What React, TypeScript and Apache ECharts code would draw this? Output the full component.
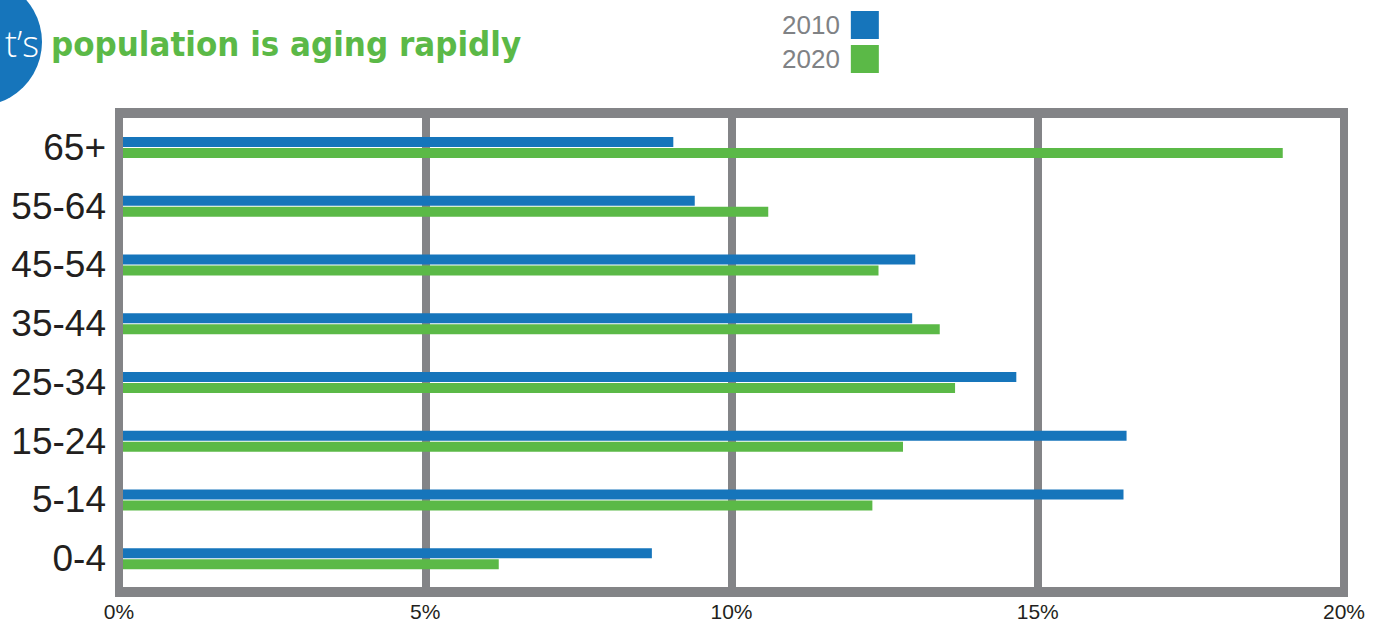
import React, { useEffect, useRef } from "react";
import * as echarts from "echarts";

const categories = ["0-4", "5-14", "15-24", "25-34", "35-44", "45-54", "55-64", "65+"];
const values2010 = [8.7, 16.4, 16.45, 14.65, 12.95, 13.0, 9.4, 9.05];
const values2020 = [6.2, 12.3, 12.8, 13.65, 13.4, 12.4, 10.6, 19.0];
const seriesNames = ["2010", "2020"];
const xTicks = [0, 5, 10, 15, 20];
const titleText = "population is aging rapidly";
const badgeText = "t\u2019s";

const BLUE = "#1675bb";
const GREEN = "#5bb947";
const GRAY = "#838487";

export default function App() {
  const ref = useRef<HTMLDivElement>(null);
  useEffect(() => {
    document.body.style.margin = "0";
    const chart = echarts.init(ref.current!, null, { renderer: "svg" });
    chart.setOption({
      animation: false,
      color: [BLUE, GREEN],
      grid: { left: 119, right: 41, top: 118, bottom: 40, containLabel: false },
      legend: {
        data: seriesNames,
        orient: "vertical",
        left: 777,
        top: 6,
        align: "right",
        icon: "rect",
        itemWidth: 28,
        itemHeight: 28,
        itemGap: 6,
        textStyle: { fontSize: 26, color: "#808285", fontFamily: "Liberation Sans, Arial", padding: [0, 6, 0, 0] },
      },
      xAxis: {
        type: "value",
        min: xTicks[0],
        max: xTicks[xTicks.length - 1],
        interval: 5,
        axisLine: { show: false },
        axisTick: { show: false },
        axisLabel: {
          formatter: "{value}%",
          fontSize: 21,
          color: "#231f20",
          fontFamily: "Liberation Sans, Arial",
          margin: 13,
        },
        splitLine: { show: true, lineStyle: { color: GRAY, width: 8 } },
      },
      yAxis: {
        type: "category",
        data: categories,
        axisLine: { show: false },
        axisTick: { show: false },
        axisLabel: { fontSize: 37, color: "#231f20", fontFamily: "Liberation Sans, Arial", margin: 13 },
        splitLine: { show: false },
      },
      series: [
        { name: seriesNames[0], type: "bar", data: values2010, barWidth: 10, barGap: "10%", itemStyle: { color: BLUE } },
        { name: seriesNames[1], type: "bar", data: values2020, barWidth: 10, barGap: "10%", itemStyle: { color: GREEN } },
      ],
      graphic: [
        { type: "line", z: 50, shape: { x1: 115, y1: 113, x2: 1348, y2: 113 }, style: { stroke: GRAY, lineWidth: 10 } },
        { type: "line", z: 50, shape: { x1: 115, y1: 592, x2: 1348, y2: 592 }, style: { stroke: GRAY, lineWidth: 10 } },
        { type: "line", z: 50, shape: { x1: 119, y1: 108, x2: 119, y2: 597 }, style: { stroke: GRAY, lineWidth: 8 } },
        { type: "line", z: 50, shape: { x1: 1344, y1: 108, x2: 1344, y2: 597 }, style: { stroke: GRAY, lineWidth: 8 } },
        { type: "circle", z: 50, shape: { cx: -22, cy: 42, r: 64 }, style: { fill: BLUE } },
        {
          type: "text",
          z: 51,
          x: 39,
          y: 43,
          style: {
            text: badgeText,
            fill: "#ffffff",
            font: "300 36px 'Open Sans', sans-serif",
            align: "right",
            verticalAlign: "middle",
          },
        },
        {
          type: "text",
          z: 51,
          x: 51,
          y: 44,
          style: {
            text: titleText,
            fill: GREEN,
            font: "bold 34.5px 'DejaVu Sans Condensed', 'DejaVu Sans', sans-serif",
            align: "left",
            verticalAlign: "middle",
          },
        },
      ],
    });
    return () => chart.dispose();
  }, []);
  return <div ref={ref} style={{ width: 1385, height: 628 }} />;
}
